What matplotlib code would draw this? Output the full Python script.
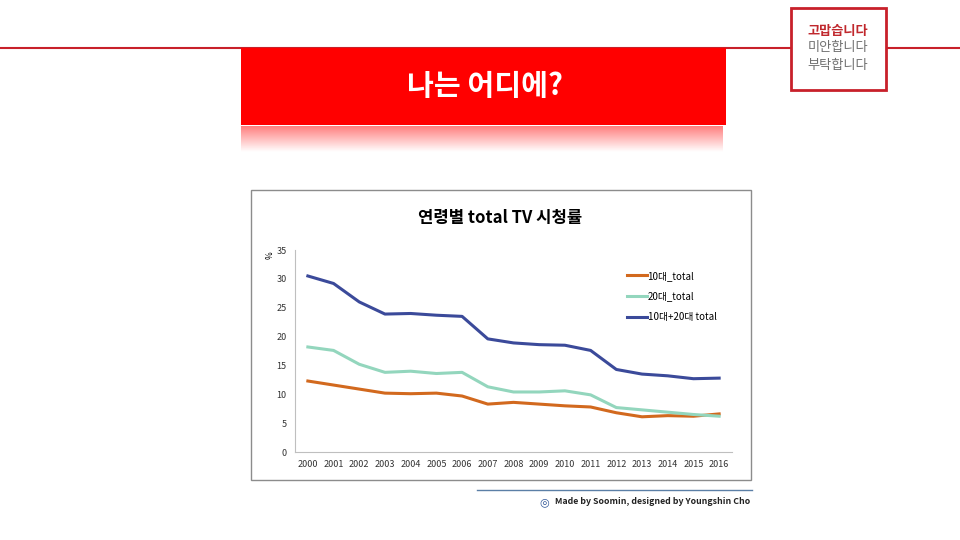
import numpy as np
import matplotlib.pyplot as plt
from matplotlib.patches import Rectangle

plt.rcParams["font.family"] = ["Noto Sans CJK KR", "DejaVu Sans"]

# -----------------------------
# Data
# -----------------------------
years = list(range(2000, 2017))
teen_total = [12.3, 11.6, 10.9, 10.2, 10.1, 10.2, 9.7, 8.3, 8.6, 8.3,
              8.0, 7.8, 6.8, 6.1, 6.3, 6.2, 6.6]
twenties_total = [18.2, 17.6, 15.2, 13.8, 14.0, 13.6, 13.8, 11.3, 10.4, 10.4,
                  10.6, 9.9, 7.7, 7.3, 6.9, 6.5, 6.2]
combined_total = [30.5, 29.2, 26.0, 23.9, 24.0, 23.7, 23.5, 19.6, 18.9, 18.6,
                  18.5, 17.6, 14.3, 13.5, 13.2, 12.7, 12.8]
series_labels = ["10대_total", "20대_total", "10대+20대 total"]
y_ticks = [0, 5, 10, 15, 20, 25, 30, 35]

W, H = 960, 540
fig = plt.figure(figsize=(W / 100, H / 100), dpi=100)

# background layer in pixel coordinates
bg = fig.add_axes([0, 0, 1, 1])
bg.set_xlim(0, W)
bg.set_ylim(H, 0)
bg.axis("off")

# thin red rule across the top
bg.plot([0, W], [48, 48], color="#c8202a", lw=1.5, zorder=1)

# red banner + reflection
bg.add_patch(Rectangle((241, 48), 485, 77, facecolor="#ff0000", edgecolor="none", zorder=2))
grad = np.ones((40, 2, 4))
grad[..., 1] = np.linspace(0.5, 1.0, 40)[:, None]
grad[..., 2] = np.linspace(0.5, 1.0, 40)[:, None]
bg.imshow(grad, extent=(241, 723, 152, 126), aspect="auto", zorder=2)
bg.text(485, 86, "나는 어디에?", color="white", fontsize=21, fontweight="bold",
        ha="center", va="center", zorder=3)

# small box top right
bg.add_patch(Rectangle((791, 8), 95, 82, facecolor="white", edgecolor="#c8202a",
                       lw=2, zorder=3))
bg.text(838, 31, "고맙습니다", color="#c0282d", fontsize=9.5, fontweight="bold",
        ha="center", va="center", zorder=4)
bg.text(838, 48, "미안합니다", color="#707070", fontsize=9.5, ha="center", va="center", zorder=4)
bg.text(838, 66, "부탁합니다", color="#707070", fontsize=9.5, ha="center", va="center", zorder=4)

# chart frame
bg.add_patch(Rectangle((251, 190), 500, 290, facecolor="white", edgecolor="#8c8c8c",
                       lw=1, zorder=1))
bg.text(500, 218, "연령별 total TV 시청률", fontsize=12, fontweight="bold",
        ha="center", va="center", zorder=3)
bg.text(270, 255, "%", fontsize=6, rotation=90, ha="center", va="center", zorder=3)

# footer
bg.plot([477, 752], [490, 490], color="#5b7fa6", lw=1, zorder=1)
bg.text(544, 502, "◎", fontsize=8, color="#2f5597", ha="center", va="center",
        family=["DejaVu Sans"])
bg.text(555, 502, "Made by Soomin, designed by Youngshin Cho", fontsize=6.3,
        fontweight="bold", color="#222222", ha="left", va="center")

# -----------------------------
# Line chart
# -----------------------------
ax = fig.add_axes([295 / W, (H - 452) / H, 437 / W, 202 / H])
ax.set_facecolor("none")
ax.plot(years, teen_total, color="#d2691e", lw=2.2, label=series_labels[0])
ax.plot(years, twenties_total, color="#93d6bd", lw=2.2, label=series_labels[1])
ax.plot(years, combined_total, color="#3b4a9a", lw=2.2, label=series_labels[2])

ax.set_xlim(1999.5, 2016.5)
ax.set_ylim(0, 35)
ax.set_xticks(years)
ax.set_xticklabels([str(y) for y in years], fontsize=6.5)
ax.set_yticks(y_ticks)
ax.set_yticklabels([str(v) for v in y_ticks], fontsize=6.5)
ax.tick_params(length=0, pad=6, colors="#333333")
for s in ["top", "right"]:
    ax.spines[s].set_visible(False)
ax.spines["left"].set_color("#bfbfbf")
ax.spines["bottom"].set_color("#bfbfbf")
ax.grid(False)

ax.legend(loc="upper left", bbox_to_anchor=(0.74, 0.94), frameon=False, fontsize=7,
          handlelength=2.0, handletextpad=0.1, labelspacing=1.1)

fig.savefig("out.png", dpi=100)
